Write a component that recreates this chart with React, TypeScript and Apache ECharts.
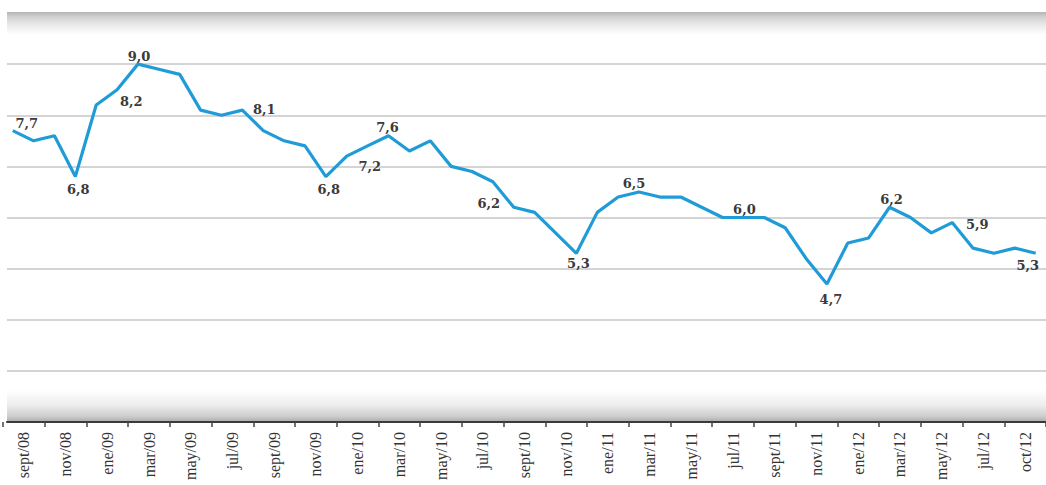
import React, { useEffect, useRef } from "react";
import * as echarts from "echarts";

// Monthly series, sept/08 .. oct/12
const months = [
  "sept/08", "oct/08", "nov/08", "dic/08",
  "ene/09", "feb/09", "mar/09", "abr/09", "may/09", "jun/09", "jul/09", "ago/09", "sept/09", "oct/09", "nov/09", "dic/09",
  "ene/10", "feb/10", "mar/10", "abr/10", "may/10", "jun/10", "jul/10", "ago/10", "sept/10", "oct/10", "nov/10", "dic/10",
  "ene/11", "feb/11", "mar/11", "abr/11", "may/11", "jun/11", "jul/11", "ago/11", "sept/11", "oct/11", "nov/11", "dic/11",
  "ene/12", "feb/12", "mar/12", "abr/12", "may/12", "jun/12", "jul/12", "ago/12", "sept/12", "oct/12",
];

const rate = [
  7.7, 7.5, 7.6, 6.8,
  8.2, 8.5, 9.0, 8.9, 8.8, 8.1, 8.0, 8.1, 7.7, 7.5, 7.4, 6.8,
  7.2, 7.4, 7.6, 7.3, 7.5, 7.0, 6.9, 6.7, 6.2, 6.1, 5.7, 5.3,
  6.1, 6.4, 6.5, 6.4, 6.4, 6.2, 6.0, 6.0, 6.0, 5.8, 5.2, 4.7,
  5.5, 5.6, 6.2, 6.0, 5.7, 5.9, 5.4, 5.3, 5.4, 5.3,
];

const tickLabels = [
  "sept/08", "nov/08", "ene/09", "mar/09", "may/09", "jul/09", "sept/09", "nov/09",
  "ene/10", "mar/10", "may/10", "jul/10", "sept/10", "nov/10", "ene/11", "mar/11",
  "may/11", "jul/11", "sept/11", "nov/11", "ene/12", "mar/12", "may/12", "jul/12", "oct/12",
];

const labelledIndices = [0, 3, 4, 6, 11, 15, 16, 18, 24, 27, 30, 35, 39, 42, 45, 49];

// label placement (style), keyed by point index
const labelOffsets: Record<number, [number, number]> = {
  0: [14, -7],
  3: [3, 13],
  4: [35, -4],
  6: [1, -8],
  11: [22, -1],
  15: [3, 13],
  16: [23, 10],
  18: [-1, -8],
  24: [-25, -4],
  27: [2, 10],
  30: [-5, -8],
  35: [1, -8],
  39: [4, 16],
  42: [2, -8],
  45: [25, 2],
  49: [-8, 12],
};

const Y_MIN = 2;
const Y_MAX = 10;

export default function App() {
  const ref = useRef<HTMLDivElement>(null);

  useEffect(() => {
    if (!ref.current) return;
    const chart = echarts.init(ref.current, undefined, { renderer: "svg" });

    const seriesData = rate.map((v, i) => {
      if (labelledIndices.includes(i)) {
        return {
          value: v,
          label: {
            show: true,
            position: "inside",
            offset: labelOffsets[i] || [0, 0],
          },
        };
      }
      return { value: v };
    });

    const top = 13;
    const height = 409;

    chart.setOption({
      animation: false,
      backgroundColor: "#ffffff",
      grid: [
        { left: 7, width: 1039, top, height },
        { left: 3, width: 1043, top, height },
        { left: 12.7, width: 1023, top, height },
      ],
      xAxis: [
        {
          gridIndex: 0,
          type: "category",
          data: tickLabels,
          axisLine: { show: true, lineStyle: { color: "#3a3a3a", width: 2 } },
          axisTick: { show: false },
          axisLabel: { show: false },
          splitLine: { show: false },
        },
        {
          gridIndex: 1,
          type: "category",
          data: tickLabels,
          boundaryGap: true,
          axisLine: { show: false },
          axisTick: { show: true, length: 5, interval: 0, lineStyle: { color: "#444", width: 1.5 } },
          axisLabel: {
            show: true,
            interval: 0,
            rotate: 90,
            margin: 10,
            fontFamily: "Liberation Serif",
            fontSize: 16,
            color: "#333",
          },
          splitLine: { show: false },
        },
        {
          gridIndex: 2,
          type: "category",
          data: months,
          boundaryGap: false,
          show: false,
        },
      ],
      yAxis: [
        {
          gridIndex: 0,
          type: "value",
          min: Y_MIN,
          max: Y_MAX,
          interval: 1,
          axisLine: { show: false },
          axisTick: { show: false },
          axisLabel: { show: false },
          splitLine: { show: true, lineStyle: { color: "#c6c6c6", width: 1.5 } },
        },
        { gridIndex: 1, type: "value", min: Y_MIN, max: Y_MAX, show: false, splitLine: { show: false } },
        { gridIndex: 2, type: "value", min: Y_MIN, max: Y_MAX, show: false, splitLine: { show: false } },
      ],
      graphic: [
        {
          type: "rect",
          z: 1,
          silent: true,
          shape: { x: 7, y: 12, width: 1039, height: 23 },
          style: {
            fill: new echarts.graphic.LinearGradient(0, 0, 0, 1, [
              { offset: 0, color: "#b4b4b4" },
              { offset: 0.2, color: "#cfcfcf" },
              { offset: 0.6, color: "#ececec" },
              { offset: 1, color: "#ffffff" },
            ]),
          },
        },
        {
          type: "rect",
          z: 1,
          silent: true,
          shape: { x: 7, y: 390, width: 1039, height: 31 },
          style: {
            fill: new echarts.graphic.LinearGradient(0, 0, 0, 1, [
              { offset: 0, color: "#ffffff" },
              { offset: 0.5, color: "#ececec" },
              { offset: 0.85, color: "#cdcdcd" },
              { offset: 1, color: "#b0b0b0" },
            ]),
          },
        },
      ],
      series: [
        {
          type: "line",
          xAxisIndex: 2,
          yAxisIndex: 2,
          z: 5,
          data: seriesData,
          showSymbol: true,
          symbol: "circle",
          symbolSize: 1,
          itemStyle: { color: "rgba(31,155,215,0)" },
          lineStyle: { color: "#1f9bd7", width: 3.2 },
          label: {
            show: false,
            fontFamily: "DejaVu Serif",
            fontWeight: "bold",
            fontSize: 13,
            color: "#3a3a3a",
            formatter: (p: any) => Number(p.value).toFixed(1).replace(".", ","),
          },
          emphasis: { disabled: true },
        },
      ],
    });

    return () => chart.dispose();
  }, []);

  return (
    <div
      ref={ref}
      style={{ position: "fixed", left: 0, top: 0, width: 1046, height: 485 }}
    />
  );
}
